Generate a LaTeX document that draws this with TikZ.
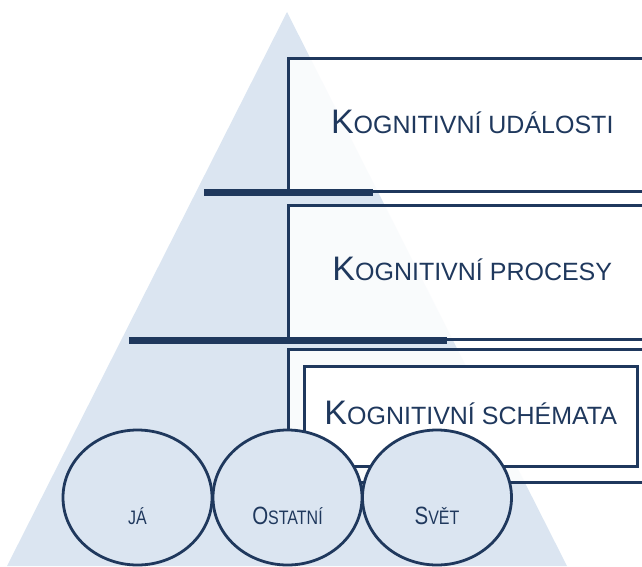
\documentclass[tikz,border=0pt]{standalone}
\usepackage{fontspec}
\setmainfont{Liberation Sans}
\usepackage{graphicx}
\usetikzlibrary{shapes.geometric}
\definecolor{navy}{RGB}{31,56,93}
\definecolor{pyrblue}{RGB}{219,229,241}
\newcommand{\bigletter}[1]{{\fontsize{34}{34}\selectfont #1}}
\newcommand{\smallletters}[1]{{\fontsize{25}{25}\selectfont #1}}
\newcommand{\ringbig}[1]{{\fontsize{25}{25}\selectfont #1}}
\newcommand{\ringsmall}[1]{{\fontsize{19.5}{19.5}\selectfont #1}}

\begin{document}
\begin{tikzpicture}[x=1pt,y=-1pt,
    level/.style={draw=navy,line width=2.5pt,fill=white,fill opacity=0.85,text opacity=1,
      text=navy,anchor=north west,minimum width=368pt,minimum height=133pt,text depth=6pt},
    bar/.style={draw=navy,line width=7pt},
    ring/.style={ellipse,draw=navy,line width=2.8pt,fill=pyrblue,inner sep=0pt,
      minimum width=149pt,minimum height=135pt},
    ringtext/.style={text=navy,anchor=base}]
    \useasboundingbox (0,0) rectangle (642,566);
    \clip (0,0) rectangle (642,566);

    \fill[pyrblue] (287,12) -- (567,566) -- (7,566) -- cycle;

    \node[level] (events) at (287,57) {\bigletter{K}\smallletters{OGNITIVNÍ UDÁLOSTI}};
    \node[level,minimum height=134pt] (processes) at (287,204) {\bigletter{K}\smallletters{OGNITIVNÍ PROCESY}};
    \draw[bar] ([xshift=-83pt]events.south west) -- ([xshift=86pt]events.south west);
    \draw[bar] ([xshift=-158pt]processes.south west) -- ([xshift=160pt]processes.south west);

    \node[level] (schemas) at (287,348) {};
    \node[level,minimum width=333pt,minimum height=100pt,fill opacity=1] (schemabox) at (303,365) {};

    \node[ring] (self) at (137.5,497.5) {};
    \node[ring] (others) at (287.5,497.5) {};
    \node[ring] (world) at (437,497.5) {};

    \node[text=navy,text depth=6pt] (schematitle) at (schemabox.center) {\bigletter{K}\smallletters{OGNITIVNÍ SCHÉMATA}};
    \node[ringtext] (selftext) at ([yshift=-27pt]self.center) {\scalebox{0.82}[1]{\ringsmall{JÁ}}};
    \node[ringtext] (otherstext) at ([yshift=-27pt]others.center) {\scalebox{0.82}[1]{\ringbig{O}\ringsmall{STATNÍ}}};
    \node[ringtext] (worldtext) at ([yshift=-27pt]world.center) {\scalebox{0.82}[1]{\ringbig{S}\ringsmall{VĚT}}};
  \end{tikzpicture}
\end{document}
